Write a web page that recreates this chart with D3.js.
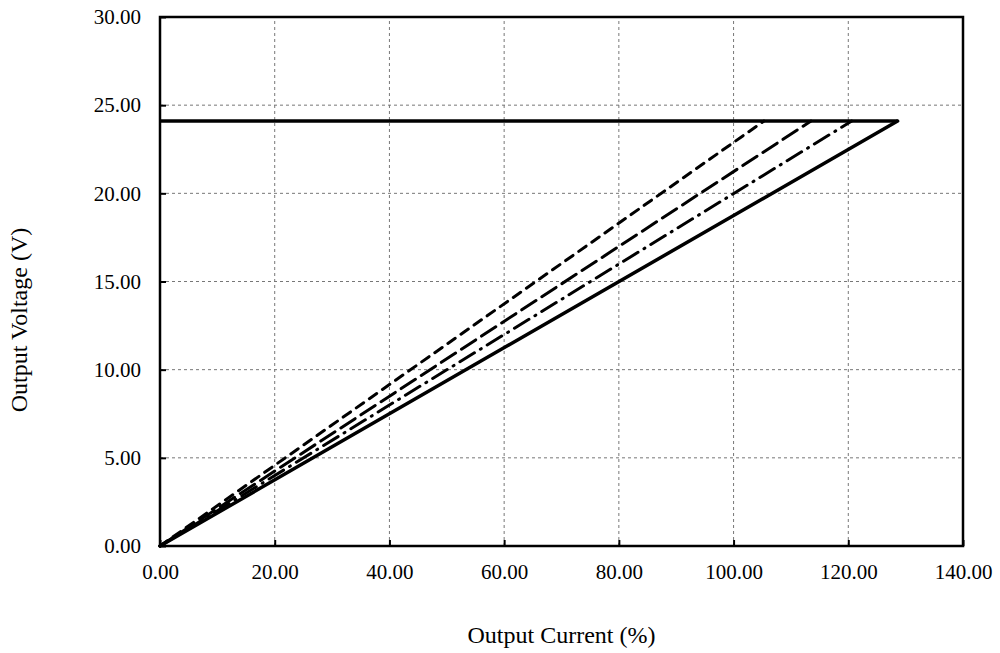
<!DOCTYPE html>
<html>
<head>
<meta charset="utf-8">
<script src="https://cdn.jsdelivr.net/npm/d3@7"></script>
<style>
  body { margin: 0; background: #fff; }
  text { font-family: "Liberation Serif", "Times New Roman", serif; fill: #000; }
</style>
</head>
<body>
<div id="chart"></div>
<script>
// ticks
const xTicks = [0, 20, 40, 60, 80, 100, 120, 140];
const yTicks = [0, 5, 10, 15, 20, 25, 30];

// limit voltage (V)
const limitVoltage = 24.1;

// foldback curves: current (%) where each line reaches the limit voltage
const seriesNames = ["shortDash", "longDash", "dashDot", "solid"];
const seriesEndCurrent = [105.3, 113.5, 120.6, 128.6];
const seriesDash = ["9,7", "17,7", "17,7,1,7", null];

const width = 1000, height = 653;
const margin = {top: 17, right: 37, bottom: 107, left: 160};

const svg = d3.select('#chart').append('svg')
    .attr('width', width)
    .attr('height', height);

const x = d3.scaleLinear().domain([0, 140]).range([margin.left, width - margin.right]);
const y = d3.scaleLinear().domain([0, 30]).range([height - margin.bottom, margin.top]);

// gridlines
const grid = svg.append('g');
grid.selectAll('.vg')
    .data(xTicks.slice(1, -1))
  .join('line')
    .attr('x1', d => x(d)).attr('x2', d => x(d))
    .attr('y1', y(0)).attr('y2', y(30))
    .attr('stroke', '#777').attr('stroke-width', 1).attr('stroke-dasharray', '3,3');
grid.selectAll('.hg')
    .data(yTicks.slice(1, -1))
  .join('line')
    .attr('y1', d => y(d)).attr('y2', d => y(d))
    .attr('x1', x(0)).attr('x2', x(140))
    .attr('stroke', '#777').attr('stroke-width', 1).attr('stroke-dasharray', '3,3');

// axes (ticks point inward)
const xAxis = svg.append('g')
    .attr('transform', `translate(0,${y(0)})`)
    .call(d3.axisBottom(x).tickValues(xTicks).tickFormat(d3.format('.2f')).tickSizeInner(-6).tickSizeOuter(0).tickPadding(18));
const yAxis = svg.append('g')
    .attr('transform', `translate(${x(0)},0)`)
    .call(d3.axisLeft(y).tickValues(yTicks).tickFormat(d3.format('.2f')).tickSizeInner(-6).tickSizeOuter(0).tickPadding(19));
[xAxis, yAxis].forEach(a => {
  a.select('.domain').remove();
  a.selectAll('.tick line').attr('stroke', '#000').attr('stroke-width', 2);
  a.selectAll('.tick text').style('font-size', '21px');
});

// frame
svg.append('rect')
    .attr('x', x(0)).attr('y', y(30))
    .attr('width', x(140) - x(0)).attr('height', y(0) - y(30))
    .attr('fill', 'none').attr('stroke', '#000').attr('stroke-width', 2.5);

// lines
const line = d3.line().x(d => x(d[0])).y(d => y(d[1]));

svg.append('path')
    .attr('d', line([[0, limitVoltage], [seriesEndCurrent[3], limitVoltage]]))
    .attr('fill', 'none').attr('stroke', '#000').attr('stroke-width', 3.5);

svg.selectAll('.series')
    .data(seriesNames)
  .join('path')
    .attr('class', 'series')
    .attr('d', (d, i) => line([[0, 0], [seriesEndCurrent[i], limitVoltage]]))
    .attr('fill', 'none')
    .attr('stroke', '#000')
    .attr('stroke-width', (d, i) => i === 3 ? 3.5 : 3)
    .attr('stroke-linecap', 'round')
    .attr('stroke-dasharray', (d, i) => seriesDash[i]);

// axis titles
svg.append('text')
    .attr('x', (x(0) + x(140)) / 2).attr('y', 643)
    .attr('text-anchor', 'middle').style('font-size', '24px')
    .text('Output Current (%)');
svg.append('text')
    .attr('transform', 'translate(27,320) rotate(-90)')
    .attr('text-anchor', 'middle').style('font-size', '24px')
    .text('Output Voltage (V)');
</script>
</body>
</html>
